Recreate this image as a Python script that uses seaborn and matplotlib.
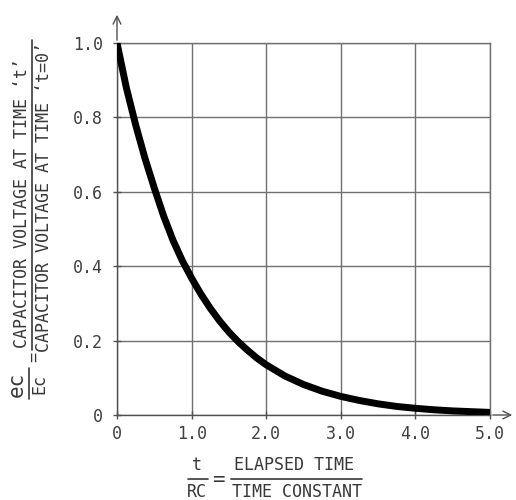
import matplotlib
matplotlib.use("Agg")
import matplotlib.pyplot as plt
import seaborn as sns
import pandas as pd
from matplotlib.lines import Line2D

# ---- data ----
t_over_rc = [0.0, 0.125, 0.25, 0.375, 0.5, 0.625, 0.75, 0.875, 1.0, 1.125,
             1.25, 1.375, 1.5, 1.625, 1.75, 1.875, 2.0, 2.25, 2.5, 2.75,
             3.0, 3.25, 3.5, 3.75, 4.0, 4.25, 4.5, 4.75, 5.0]
voltage_ratio = [1.0, 0.88, 0.78, 0.69, 0.61, 0.535, 0.47, 0.415, 0.368, 0.325,
                 0.287, 0.253, 0.223, 0.197, 0.174, 0.153, 0.135, 0.105,
                 0.082, 0.064, 0.05, 0.039, 0.03, 0.023, 0.018, 0.014, 0.011,
                 0.009, 0.007]
x_ticks = [0, 1, 2, 3, 4, 5]
x_tick_labels = ["0", "1.0", "2.0", "3.0", "4.0", "5.0"]
y_ticks = [0, 0.2, 0.4, 0.6, 0.8, 1.0]
y_tick_labels = ["0", "0.2", "0.4", "0.6", "0.8", "1.0"]

df = pd.DataFrame({"x": t_over_rc, "y": voltage_ratio})

sns.set_theme(style="white")
plt.rcParams["font.family"] = ["DejaVu Sans Mono", "DejaVu Sans"]

W, H = 516, 500
fig = plt.figure(figsize=(W / 100, H / 100), dpi=100)
fig.patch.set_facecolor("white")

def P(x, y):
    return (x / W, 1 - y / H)

ax_l, ax_r, ax_t, ax_b = 117, 490, 43, 415
ax = fig.add_axes([ax_l / W, 1 - ax_b / H, (ax_r - ax_l) / W, (ax_b - ax_t) / H])
ax.set_facecolor("white")

sns.lineplot(data=df, x="x", y="y", ax=ax, color="black", linewidth=5.0,
             solid_capstyle="butt", solid_joinstyle="round", zorder=5)

ax.set_xlim(0, 5)
ax.set_ylim(0, 1)
ax.set_xticks(x_ticks)
ax.set_xticklabels(x_tick_labels)
ax.set_yticks(y_ticks)
ax.set_yticklabels(y_tick_labels)
ax.set_xlabel("")
ax.set_ylabel("")

grid_c = "#707070"
ax.grid(True, color=grid_c, linewidth=1.0)
for s in ax.spines.values():
    s.set_color(grid_c)
    s.set_linewidth(1.0)
ax.spines["left"].set_color("#505050")
ax.spines["bottom"].set_color("#505050")

ax.tick_params(axis="both", direction="inout", length=6, width=1,
               color="#505050", labelsize=12, labelcolor="#404040",
               left=True, bottom=True)
ax.tick_params(axis="y", pad=7)
ax.tick_params(axis="x", pad=4)

# axis arrows
arrow_kw = dict(arrowstyle="->", color="#505050", lw=1.0, mutation_scale=14)
ax.annotate("", xy=(0, (ax_b - 12) / (ax_b - ax_t)), xytext=(0, 1),
            xycoords="axes fraction", textcoords="axes fraction",
            arrowprops=arrow_kw, annotation_clip=False)
ax.annotate("", xy=((515 - ax_l) / (ax_r - ax_l), 0), xytext=(1, 0),
            xycoords="axes fraction", textcoords="axes fraction",
            arrowprops=arrow_kw, annotation_clip=False)

txt_c = "#383838"
fs = 12

# ---- y label (rotated fraction) ----
fig.text(*P(17, 384), "ec", rotation=90, ha="center", va="center",
         fontsize=15, color=txt_c)
fig.text(*P(39, 384), "Ec", rotation=90, ha="center", va="center",
         fontsize=12, color=txt_c)
fig.add_artist(Line2D([29 / W, 29 / W], [1 - 368 / H, 1 - 399 / H],
                      color=txt_c, lw=1.2))
fig.text(*P(34, 357), "=", rotation=90, ha="center", va="center",
         fontsize=12, color=txt_c)
fig.text(*P(22, 203), "CAPACITOR VOLTAGE AT TIME \u2018t\u2019", rotation=90,
         ha="center", va="center", fontsize=fs, color=txt_c)
fig.add_artist(Line2D([32 / W, 32 / W], [1 - 40 / H, 1 - 350 / H],
                      color=txt_c, lw=1.2))
fig.text(*P(44, 197), "CAPACITOR VOLTAGE AT TIME \u2018t=0\u2019", rotation=90,
         ha="center", va="center", fontsize=fs, color=txt_c)

# ---- x label (fraction) ----
fig.text(*P(197, 465), "t", ha="center", va="center", fontsize=fs, color=txt_c)
fig.text(*P(197, 492), "RC", ha="center", va="center", fontsize=fs, color=txt_c)
fig.add_artist(Line2D([188 / W, 208 / W], [1 - 479 / H, 1 - 479 / H],
                      color=txt_c, lw=1.2))
fig.text(*P(218, 480), "=", ha="center", va="center", fontsize=15, color=txt_c)
fig.text(*P(294, 465), "ELAPSED TIME", ha="center", va="center",
         fontsize=fs, color=txt_c)
fig.add_artist(Line2D([231 / W, 362 / W], [1 - 479 / H, 1 - 479 / H],
                      color=txt_c, lw=1.2))
fig.text(*P(297, 492), "TIME CONSTANT", ha="center", va="center",
         fontsize=fs, color=txt_c)

fig.savefig("out.png", dpi=100, facecolor="white")
